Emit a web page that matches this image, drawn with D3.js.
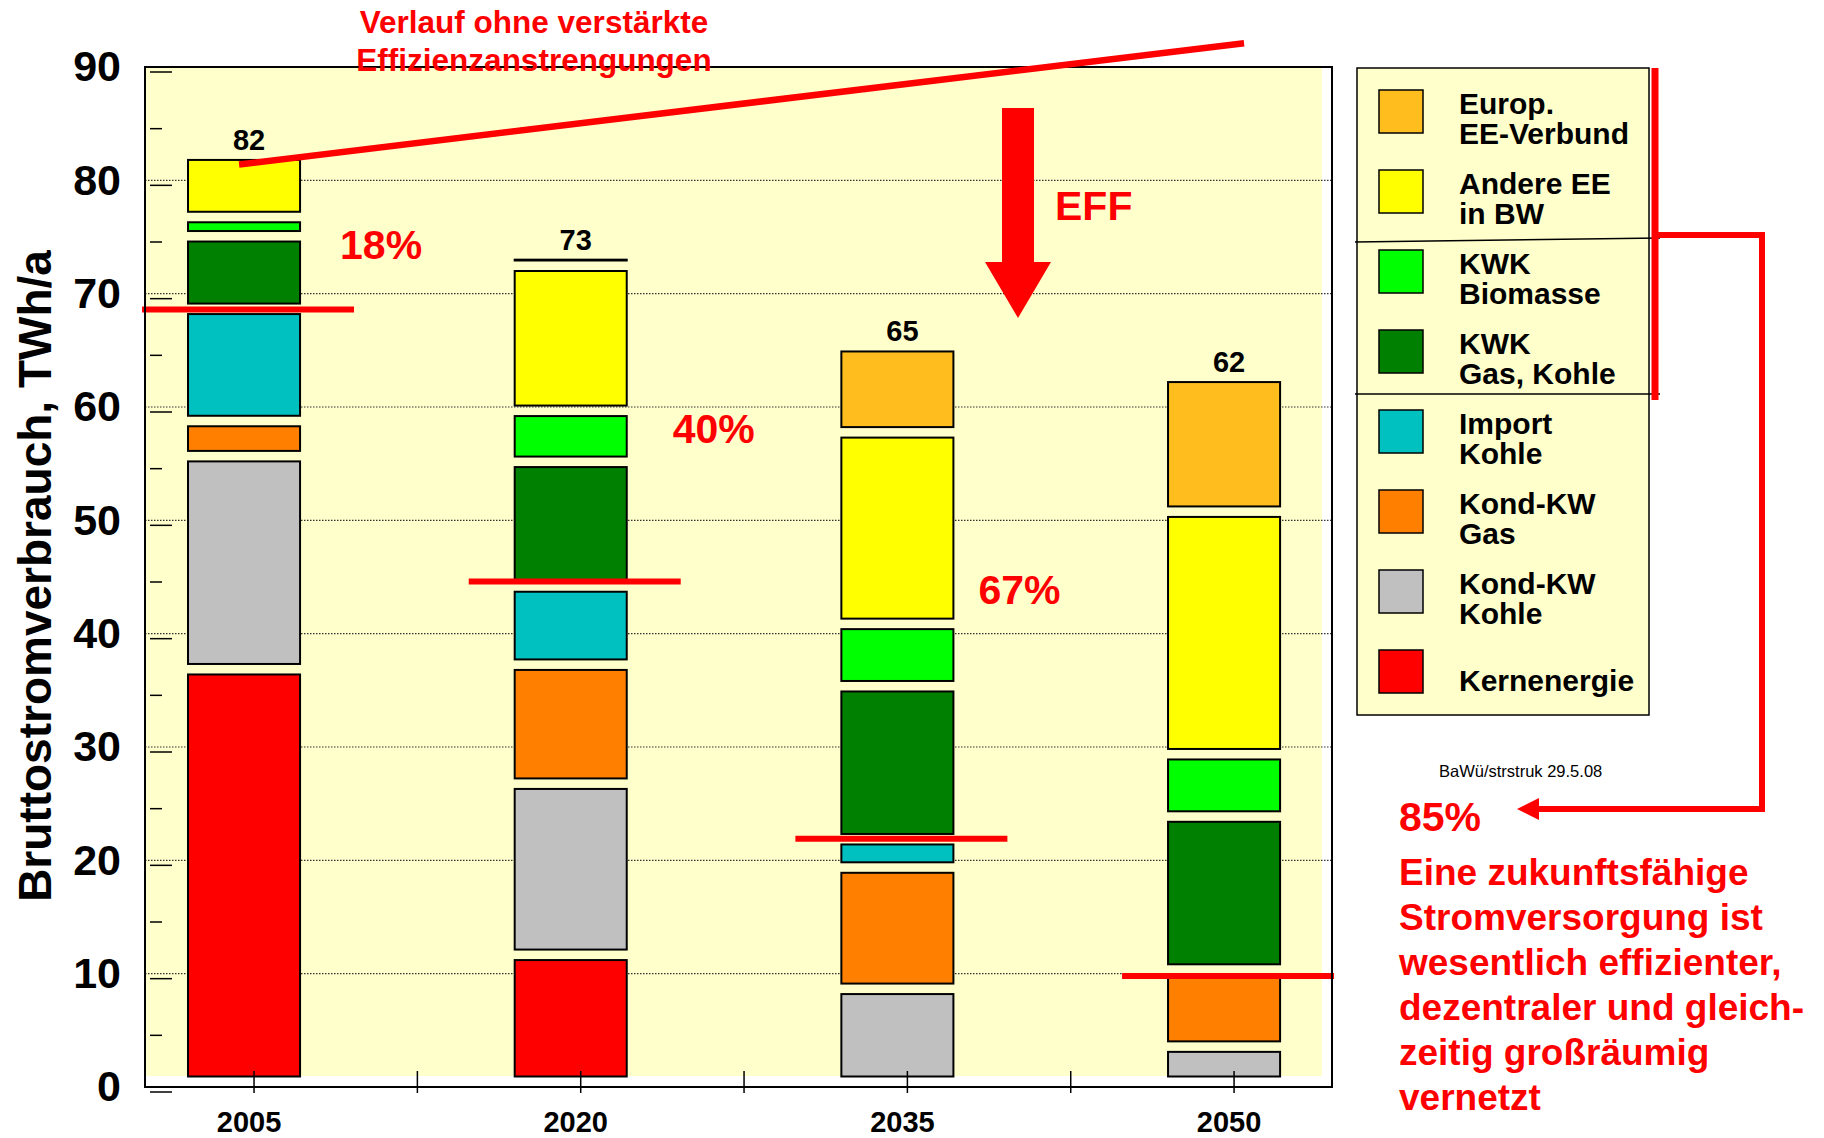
<!DOCTYPE html>
<html>
<head>
<meta charset="utf-8">
<script src="https://cdn.jsdelivr.net/npm/d3@7"></script>
<style>
    body { margin: 0; background: #fff; }
    svg { display: block; font-family: "Liberation Sans", Arial, sans-serif; }
</style>
</head>
<body>
<div id="chart"></div>
<script>
// categories
const years = ["2005", "2020", "2035", "2050"];

// stacked from bottom to top, TWh/a
const sources = [
    "Kernenergie",
    "Kond-KW Kohle",
    "Kond-KW Gas",
    "Import Kohle",
    "KWK Gas, Kohle",
    "KWK Biomasse",
    "Andere EE in BW",
    "Europ. EE-Verbund",
];
const kernenergie = [36.4, 11.2, 0, 0];
const kondKohle = [18.8, 15.1, 8.2, 3.1];
const kondGas = [3.1, 10.5, 10.7, 6.8];
const importKohle = [9.9, 6.9, 2.5, 0];
const kwkFossil = [6.4, 11.0, 13.5, 13.5];
const kwkBiomasse = [1.7, 4.5, 5.5, 5.5];
const andereEE = [5.5, 12.8, 16.9, 21.4];
const europEE = [0, 1.0, 7.6, 11.9];

const totalLabels = ["82", "73", "65", "62"];

// red marker for the renewable share in each bar
const shareLineValues = [68.6, 44.6, 21.9, 9.8];
const shareLabels = ["18%", "40%", "67%"];

// "Verlauf ohne verstärkte Effizienzanstrengungen", 2005 -> 2050
const trendValues = [81.4, 92.1];

const yTicks = [0, 10, 20, 30, 40, 50, 60, 70, 80, 90];
const yMinorTicks = [0, 5, 10, 15, 20, 25, 30, 35, 40, 45, 50, 55, 60, 65, 70, 75, 80, 85, 90];

const legendLabels = [
    ["Europ.", "EE-Verbund"],
    ["Andere EE", "in BW"],
    ["KWK", "Biomasse"],
    ["KWK", "Gas, Kohle"],
    ["Import", "Kohle"],
    ["Kond-KW", "Gas"],
    ["Kond-KW", "Kohle"],
    ["Kernenergie"],
];

const conclusion = [
    "Eine zukunftsfähige",
    "Stromversorgung ist",
    "wesentlich effizienter,",
    "dezentraler und gleich-",
    "zeitig großräumig",
    "vernetzt",
];

const colors = ["#ff0000", "#c0c0c0", "#ff8000", "#00c0c0", "#008000", "#00ff00", "#ffff00", "#ffbe1e"];
const red = "#ff0000";

const width = 1824;
const height = 1138;
const frameLeft = 145;
const frameRight = 1332;
const frameTop = 67;
const frameBottom = 1087;
const gap = 10.5; // white gap under every segment

const seriesValues = [kernenergie, kondKohle, kondGas, importKohle, kwkFossil, kwkBiomasse, andereEE, europEE];
const rows = years.map((yr, i) => {
    const r = { year: yr };
    sources.forEach((k, j) => (r[k] = seriesValues[j][i]));
    return r;
});
const stacked = d3.stack().keys(sources)(rows);
const stackTop = rows.map((r) => d3.sum(sources, (k) => r[k]));

const y = d3.scaleLinear().domain([0, 90]).range([frameBottom, frameTop]);
const x = d3
    .scaleBand()
    .domain(years)
    .range([80.7, 1387.4])
    .paddingInner(0.657)
    .paddingOuter(0.3285);
const bw = x.bandwidth();
const cx = (yr) => x(yr) + bw / 2;

const svg = d3
    .select("#chart")
    .append("svg")
    .attr("width", width)
    .attr("height", height)
    .attr("viewBox", `0 0 ${width} ${height}`);

// plot background
svg.append("rect")
    .attr("x", frameLeft)
    .attr("y", frameTop)
    .attr("width", frameRight - 10 - frameLeft)
    .attr("height", frameBottom - 11 - frameTop)
    .attr("fill", "#ffffcc");

// dotted gridlines
svg.append("g")
    .selectAll("line")
    .data(yTicks.filter((v) => v > 0 && v < 90))
    .join("line")
    .attr("x1", frameLeft)
    .attr("x2", frameRight)
    .attr("y1", (d) => y(d))
    .attr("y2", (d) => y(d))
    .attr("stroke", "#333")
    .attr("stroke-width", 1.2)
    .attr("stroke-dasharray", "1.5,1.5");

// small tick marks inside the frame
svg.append("g")
    .selectAll("line")
    .data(yMinorTicks)
    .join("line")
    .attr("x1", frameLeft + 5)
    .attr("x2", (d) => (d % 10 === 0 ? frameLeft + 27 : frameLeft + 17))
    .attr("y1", (d) => y(d) + 5)
    .attr("y2", (d) => y(d) + 5)
    .attr("stroke", "#000")
    .attr("stroke-width", 1.5);

// stacked bars
svg.append("g")
    .selectAll("g")
    .data(stacked)
    .join("g")
    .attr("fill", (d, i) => colors[i])
    .selectAll("rect")
    .data((d) => d.filter((s) => s[1] - s[0] > 0))
    .join("rect")
    .attr("x", (d) => x(d.data.year))
    .attr("width", bw)
    .attr("y", (d) => y(d[1]))
    .attr("height", (d) => Math.max(0, y(d[0]) - gap - y(d[1])))
    .attr("stroke", "#000")
    .attr("stroke-width", 2);

// totals above the bars
svg.append("g")
    .selectAll("text")
    .data(years)
    .join("text")
    .attr("x", (d) => cx(d) + 5)
    .attr("y", (d, i) => y(stackTop[i]) - 10)
    .attr("text-anchor", "middle")
    .attr("font-size", 29)
    .attr("font-weight", "bold")
    .text((d, i) => totalLabels[i]);

// renewable share lines
svg.append("g")
    .selectAll("line")
    .data(years)
    .join("line")
    .attr("x1", (d) => cx(d) - 102)
    .attr("x2", (d) => cx(d) + 110)
    .attr("y1", (d, i) => y(shareLineValues[i]))
    .attr("y2", (d, i) => y(shareLineValues[i]))
    .attr("stroke", red)
    .attr("stroke-width", 6);

const shareLabelPos = [
    { dx: 96, v: 73.1 },
    { dx: 102, v: 56.8 },
    { dx: 81, v: 42.6 },
];
svg.append("g")
    .selectAll("text")
    .data(shareLabels)
    .join("text")
    .attr("x", (d, i) => cx(years[i]) + shareLabelPos[i].dx)
    .attr("y", (d, i) => y(shareLabelPos[i].v))
    .attr("font-size", 41)
    .attr("font-weight", "bold")
    .attr("fill", red)
    .text((d) => d);

// x axis: frame bottom, ticks at the bars and between them
const xTicks = [];
years.forEach((yr, i) => {
    xTicks.push(cx(yr) + 10);
    if (i < years.length - 1) xTicks.push(cx(yr) + x.step() / 2 + 10);
});
svg.append("g")
    .selectAll("line")
    .data(xTicks)
    .join("line")
    .attr("x1", (d) => d)
    .attr("x2", (d) => d)
    .attr("y1", frameBottom - 16)
    .attr("y2", frameBottom + 6)
    .attr("stroke", "#000")
    .attr("stroke-width", 1.5);

svg.append("g")
    .attr("transform", `translate(5,${frameBottom})`)
    .call(d3.axisBottom(x).tickSize(0).tickPadding(24))
    .call((g) => g.select(".domain").remove())
    .call((g) =>
        g
            .selectAll("text")
            .attr("font-family", "Liberation Sans, Arial, sans-serif")
            .attr("font-size", 29)
            .attr("font-weight", "bold")
            .attr("fill", "#000")
    );

// y axis labels
svg.append("g")
    .attr("transform", `translate(${frameLeft},0)`)
    .call(d3.axisLeft(y).tickValues(yTicks).tickSize(0).tickPadding(24))
    .call((g) => g.select(".domain").remove())
    .call((g) =>
        g
            .selectAll("text")
            .attr("font-family", "Liberation Sans, Arial, sans-serif")
            .attr("font-size", 43)
            .attr("font-weight", "bold")
            .attr("fill", "#000")
    );

svg.append("text")
    .attr("transform", `translate(51,576) rotate(-90)`)
    .attr("text-anchor", "middle")
    .attr("font-size", 46)
    .attr("font-weight", "bold")
    .text("Bruttostromverbrauch, TWh/a");

// frame
svg.append("rect")
    .attr("x", frameLeft)
    .attr("y", frameTop)
    .attr("width", frameRight - frameLeft)
    .attr("height", frameBottom - frameTop)
    .attr("fill", "none")
    .attr("stroke", "#000")
    .attr("stroke-width", 2);

// trend without efficiency
svg.append("line")
    .attr("x1", cx("2005") - 5)
    .attr("y1", y(trendValues[0]))
    .attr("x2", cx("2050") + 20)
    .attr("y2", y(trendValues[1]))
    .attr("stroke", red)
    .attr("stroke-width", 6.5);

svg.append("g")
    .selectAll("text")
    .data(["Verlauf ohne verstärkte", "Effizienzanstrengungen"])
    .join("text")
    .attr("x", 534)
    .attr("y", (d, i) => 33 + i * 37.5)
    .attr("text-anchor", "middle")
    .attr("font-size", 31.5)
    .attr("font-weight", "bold")
    .attr("fill", red)
    .text((d) => d);

// EFF arrow
const ax = 1018;
svg.append("path")
    .attr(
        "d",
        `M${ax - 16},108 H${ax + 16} V262 H${ax + 33} L${ax},318 L${ax - 33},262 H${ax - 16} Z`
    )
    .attr("fill", red);
svg.append("text")
    .attr("x", 1055)
    .attr("y", 220)
    .attr("font-size", 41)
    .attr("font-weight", "bold")
    .attr("fill", red)
    .text("EFF");

// legend
const legend = svg.append("g").attr("transform", "translate(1357,68)");
legend
    .append("rect")
    .attr("width", 292)
    .attr("height", 647)
    .attr("fill", "#ffffcc")
    .attr("stroke", "#000")
    .attr("stroke-width", 1.5);

const legendItems = legend
    .selectAll("g.item")
    .data(legendLabels)
    .join("g")
    .attr("class", "item")
    .attr("transform", (d, i) => `translate(0,${22 + i * 80})`);

legendItems
    .append("rect")
    .attr("x", 22)
    .attr("width", 44)
    .attr("height", 43)
    .attr("fill", (d, i) => colors[colors.length - 1 - i])
    .attr("stroke", "#000")
    .attr("stroke-width", 1.5);

legendItems
    .selectAll("text")
    .data((d) => d.map((t) => ({ t, single: d.length === 1 })))
    .join("text")
    .attr("x", 102)
    .attr("y", (d, i) => (d.single ? 41 : 24 + i * 30))
    .attr("font-size", 30)
    .attr("font-weight", "bold")
    .text((d) => d.t);

legend
    .append("line")
    .attr("x1", -2)
    .attr("x2", 303)
    .attr("y1", 174)
    .attr("y2", 170)
    .attr("stroke", "#000")
    .attr("stroke-width", 1.5);
legend
    .append("line")
    .attr("x1", -2)
    .attr("x2", 303)
    .attr("y1", 326)
    .attr("y2", 326)
    .attr("stroke", "#000")
    .attr("stroke-width", 1.5);

// red bracket to the 85% note
svg.append("line")
    .attr("x1", 1655)
    .attr("x2", 1655)
    .attr("y1", 68)
    .attr("y2", 400)
    .attr("stroke", red)
    .attr("stroke-width", 7);
svg.append("path")
    .attr("d", "M1655,235 H1762 V809 H1536")
    .attr("fill", "none")
    .attr("stroke", red)
    .attr("stroke-width", 6);
svg.append("path")
    .attr("d", "M1517,809 L1539,798 L1539,820 Z")
    .attr("fill", red);

svg.append("text")
    .attr("x", 1439)
    .attr("y", 777)
    .attr("font-size", 16.5)
    .text("BaWü/strstruk 29.5.08");

svg.append("text")
    .attr("x", 1399)
    .attr("y", 831)
    .attr("font-size", 41)
    .attr("font-weight", "bold")
    .attr("fill", red)
    .text("85%");

svg.append("g")
    .selectAll("text")
    .data(conclusion)
    .join("text")
    .attr("x", 1399)
    .attr("y", (d, i) => 884.5 + i * 45.1)
    .attr("font-size", 37)
    .attr("font-weight", "bold")
    .attr("fill", red)
    .text((d) => d);
</script>
</body>
</html>
